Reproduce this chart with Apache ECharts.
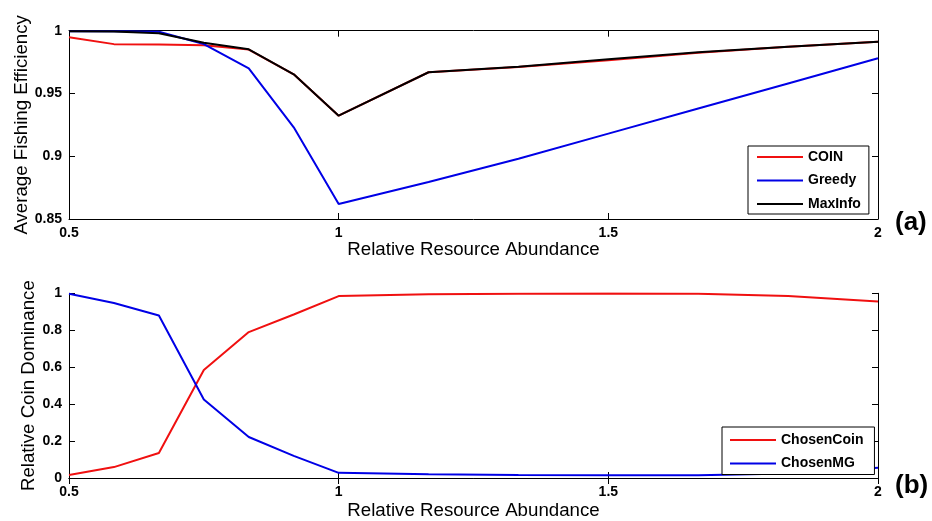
<!DOCTYPE html>
<html>
<head>
<meta charset="utf-8">
<script src="https://cdn.jsdelivr.net/npm/echarts@6/dist/echarts.min.js"></script>
<style>
html,body{margin:0;padding:0;background:#fff;}
#chart{width:932px;height:521px;}
</style>
</head>
<body>
<div id="chart"></div>
<script>
// ---- data ----
const abundance = [0.5, 0.5833, 0.6667, 0.75, 0.8333, 0.9167, 1.0, 1.1667, 1.3333, 1.5, 1.6667, 1.8333, 2.0];

// panel (a): Average Fishing Efficiency
const coin    = [0.9947, 0.9893, 0.989, 0.9885, 0.985, 0.9653, 0.9323, 0.9669, 0.971, 0.9765, 0.9825, 0.9872, 0.9912];
const greedy  = [0.9995, 0.9995, 0.9992, 0.9894, 0.970, 0.923, 0.862, 0.8795, 0.898, 0.918, 0.938, 0.958, 0.978];
const maxInfo = [0.9995, 0.9994, 0.998, 0.9904, 0.9852, 0.9653, 0.9323, 0.9669, 0.9713, 0.9772, 0.9828, 0.9872, 0.9912];

// panel (b): Relative Coin Dominance
const chosenCoin = [0.016, 0.059, 0.135, 0.585, 0.79, 0.885, 0.985, 0.995, 0.998, 0.999, 0.998, 0.985, 0.955];
const chosenMG   = [0.998, 0.947, 0.88, 0.425, 0.222, 0.12, 0.028, 0.02, 0.016, 0.015, 0.015, 0.025, 0.055];

const legendA = ['COIN', 'Greedy', 'MaxInfo'];
const legendB = ['ChosenCoin', 'ChosenMG'];
const panelLabels = ['(a)', '(b)'];
const xTitle = 'Relative Resource Abundance';
const yTitleA = 'Average Fishing Efficiency';
const yTitleB = 'Relative Coin Dominance';

// ---- styling ----
const SANS = '"Liberation Sans", Arial, sans-serif';
const RED = '#f01010', BLUE = '#0000e6', BLACK = '#000000';
const pair = (ys) => abundance.map((x, i) => [x, ys[i]]);

const tickLabel = {fontFamily: SANS, fontWeight: 'bold', fontSize: 14, color: '#000', margin: 7};
const axisLine = {show: true, lineStyle: {color: '#000', width: 1}};
const tickIn = {show: true, inside: true, length: 6, lineStyle: {color: '#000', width: 1}};
const nameStyle = {fontFamily: SANS, fontSize: 18.7, color: '#000'};

function xAxes(gridIndex, gap) {
  return [
    {type: 'value', gridIndex, position: 'bottom', min: 0.5, max: 2, interval: 0.5,
     axisLine, axisTick: tickIn, splitLine: {show: false}, axisLabel: tickLabel,
     name: xTitle, nameLocation: 'middle', nameGap: gap, nameMoveOverlap: false, nameTextStyle: nameStyle},
    {type: 'value', gridIndex, position: 'top', min: 0.5, max: 2, interval: 0.5,
     axisLine, axisTick: tickIn, splitLine: {show: false}, axisLabel: {show: false}}
  ];
}
function yAxes(gridIndex, min, max, interval, title, gap) {
  return [
    {type: 'value', gridIndex, position: 'left', min, max, interval,
     axisLine, axisTick: tickIn, splitLine: {show: false}, axisLabel: tickLabel,
     name: title, nameLocation: 'middle', nameRotate: 90, nameGap: gap, nameMoveOverlap: false, nameTextStyle: nameStyle},
    {type: 'value', gridIndex, position: 'right', min, max, interval,
     axisLine, axisTick: tickIn, splitLine: {show: false}, axisLabel: {show: false}}
  ];
}
function line(name, ys, color, xi, yi) {
  return {name, type: 'line', data: pair(ys), xAxisIndex: xi, yAxisIndex: yi,
    showSymbol: false, symbol: 'none', color, lineStyle: {color, width: 2}, itemStyle: {color},
    emphasis: {disabled: true}};
}
const legendBase = {orient: 'vertical', icon: 'rect', itemWidth: 46, itemHeight: 2, itemGap: 9.5,
  borderColor: '#000', borderWidth: 1, borderRadius: 0, backgroundColor: '#fff',
  textStyle: {fontFamily: SANS, fontWeight: 'bold', fontSize: 14, color: '#000', lineHeight: 14}};

const chart = echarts.init(document.getElementById('chart'), null, {renderer: 'canvas'});
chart.setOption({
  animation: false,
  backgroundColor: '#fff',
  grid: [
    {left: 69, width: 809, top: 30.7, height: 188.3},
    {left: 69, width: 809, top: 293.3, height: 186.7}
  ],
  xAxis: [...xAxes(0, 21), ...xAxes(1, 23)],
  yAxis: [...yAxes(0, 0.85, 1, 0.05, yTitleA, 38), ...yAxes(1, 0, 1, 0.2, yTitleB, 31)],
  legend: [
    Object.assign({}, legendBase, {data: legendA, left: 748, top: 146, padding: [4, 8, 3, 9]}),
    Object.assign({}, legendBase, {data: legendB, left: 722, top: 427, padding: [6, 11, 4, 8]})
  ],
  title: [
    {text: panelLabels[0], left: 895, top: 210, padding: 0,
     textStyle: {fontFamily: SANS, fontWeight: 'bold', fontSize: 26, color: '#000'}},
    {text: panelLabels[1], left: 895, top: 473, padding: 0,
     textStyle: {fontFamily: SANS, fontWeight: 'bold', fontSize: 26, color: '#000'}}
  ],
  series: [
    line(legendA[0], coin, RED, 0, 0),
    line(legendA[1], greedy, BLUE, 0, 0),
    line(legendA[2], maxInfo, BLACK, 0, 0),
    line(legendB[0], chosenCoin, RED, 2, 2),
    line(legendB[1], chosenMG, BLUE, 2, 2)
  ]
});
</script>
</body>
</html>
